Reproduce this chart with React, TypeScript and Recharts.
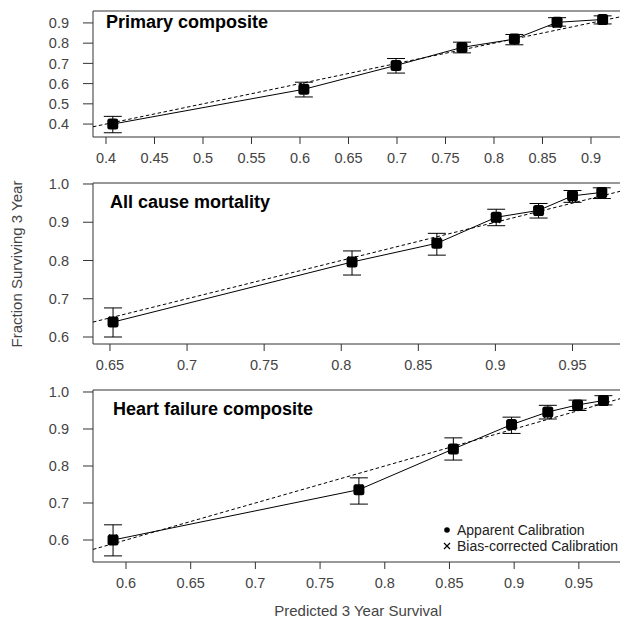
import React from "react"
import { ComposedChart, Scatter, XAxis, YAxis, ErrorBar, ReferenceLine } from "recharts"

const FONT = "'Liberation Sans', Arial, Helvetica, sans-serif"

// Primary composite
const primaryPred = [0.407, 0.604, 0.699, 0.767, 0.821, 0.865, 0.912]
const primaryObs = [0.4, 0.572, 0.69, 0.779, 0.82, 0.903, 0.917]
const primaryLow = [0.357, 0.534, 0.652, 0.752, 0.792, 0.884, 0.895]
const primaryHigh = [0.438, 0.607, 0.724, 0.805, 0.843, 0.926, 0.935]
const primaryBias = [0.402, 0.578, 0.694, 0.777, 0.818, 0.896, 0.912]
const primaryXTicks = [0.4, 0.45, 0.5, 0.55, 0.6, 0.65, 0.7, 0.75, 0.8, 0.85, 0.9]
const primaryXLabels = ["0.4", "0.45", "0.5", "0.55", "0.6", "0.65", "0.7", "0.75", "0.8", "0.85", "0.9"]
const primaryYTicks = [0.4, 0.5, 0.6, 0.7, 0.8, 0.9]
const primaryYLabels = ["0.4", "0.5", "0.6", "0.7", "0.8", "0.9"]
const primaryXRange = [0.3866, 0.9299]
const primaryYRange = [0.336, 0.959]

// All cause mortality
const mortalityPred = [0.652, 0.807, 0.862, 0.9005, 0.928, 0.95, 0.969]
const mortalityObs = [0.639, 0.796, 0.845, 0.913, 0.931, 0.969, 0.978]
const mortalityLow = [0.6, 0.762, 0.814, 0.891, 0.911, 0.952, 0.962]
const mortalityHigh = [0.676, 0.825, 0.871, 0.934, 0.949, 0.983, 0.99]
const mortalityBias = [0.643, 0.8, 0.85, 0.908, 0.927, 0.962, 0.974]
const mortalityXTicks = [0.65, 0.7, 0.75, 0.8, 0.85, 0.9, 0.95]
const mortalityXLabels = ["0.65", "0.7", "0.75", "0.8", "0.85", "0.9", "0.95"]
const mortalityYTicks = [0.6, 0.7, 0.8, 0.9, 1.0]
const mortalityYLabels = ["0.6", "0.7", "0.8", "0.9", "1.0"]
const mortalityXRange = [0.639, 0.9808]
const mortalityYRange = [0.5817, 1.0026]

// Heart failure composite
const hfPred = [0.59, 0.78, 0.853, 0.898, 0.926, 0.949, 0.969]
const hfObs = [0.6, 0.736, 0.846, 0.912, 0.946, 0.965, 0.977]
const hfLow = [0.557, 0.697, 0.816, 0.888, 0.927, 0.95, 0.965]
const hfHigh = [0.641, 0.768, 0.876, 0.932, 0.964, 0.978, 0.99]
const hfBias = [0.604, 0.739, 0.846, 0.907, 0.94, 0.96, 0.974]
const hfXTicks = [0.6, 0.65, 0.7, 0.75, 0.8, 0.85, 0.9, 0.95]
const hfXLabels = ["0.6", "0.65", "0.7", "0.75", "0.8", "0.85", "0.9", "0.95"]
const hfYTicks = [0.6, 0.7, 0.8, 0.9, 1.0]
const hfYLabels = ["0.6", "0.7", "0.8", "0.9", "1.0"]
const hfXRange = [0.5745, 0.9818]
const hfYRange = [0.5405, 1.0054]

const legendLabels = ["Apparent Calibration", "Bias-corrected Calibration"]

function Square(props: any) {
  const { cx, cy } = props
  return <rect x={cx - 5.5} y={cy - 5.5} width={11} height={11} rx={2.5} fill="#000" />
}

function Cross(props: any) {
  const { cx, cy } = props
  const s = 4
  return (
    <path
      d={`M${cx - s},${cy - s}L${cx + s},${cy + s}M${cx - s},${cy + s}L${cx + s},${cy - s}`}
      stroke="#000"
      strokeWidth={1.2}
    />
  )
}

function Empty() {
  return <g />
}

interface PanelProps {
  title: string
  titleLeft: number
  titleTop: number
  top: number
  plotHeight: number
  pred: number[]
  obs: number[]
  low: number[]
  high: number[]
  bias: number[]
  xTicks: number[]
  xLabels: string[]
  yTicks: number[]
  yLabels: string[]
  xRange: number[]
  yRange: number[]
}

function Panel(p: PanelProps) {
  const apparent = p.pred.map((x, i) => ({
    x,
    y: p.obs[i],
    err: [p.obs[i] - p.low[i], p.high[i] - p.obs[i]],
  }))
  const corrected = p.pred.map((x, i) => ({ x, y: p.bias[i] }))
  const ideal = p.xRange.map((v) => ({ x: v, y: v }))
  const tickStyle = { fill: "#444", fontSize: 14.5, fontFamily: FONT }

  return (
    <>
      <div style={{ position: "absolute", left: 0, top: p.top - 10 }}>
        <ComposedChart
          width={620}
          height={10 + p.plotHeight + 38}
          margin={{ top: 10, right: 0, bottom: 0, left: 0 }}
        >
          <XAxis
            type="number"
            dataKey="x"
            domain={p.xRange}
            ticks={p.xTicks}
            interval={0}
            allowDataOverflow
            tickFormatter={(v: number) => p.xLabels[p.xTicks.indexOf(v)]}
            tick={tickStyle}
            tickSize={7}
            tickMargin={9}
            height={38}
            axisLine={{ stroke: "#333" }}
            tickLine={{ stroke: "#333" }}
          />
          <YAxis
            type="number"
            dataKey="y"
            domain={p.yRange}
            ticks={p.yTicks}
            interval={0}
            allowDataOverflow
            tickFormatter={(v: number) => p.yLabels[p.yTicks.indexOf(v)]}
            tick={tickStyle}
            tickSize={10}
            tickMargin={14}
            width={93}
            axisLine={{ stroke: "#333" }}
            tickLine={{ stroke: "#333" }}
          />
          <ReferenceLine y={p.yRange[1]} stroke="#333" />
          <Scatter
            data={ideal}
            line={{ stroke: "#000", strokeWidth: 1, strokeDasharray: "3.5 2.5" }}
            shape={Empty}
            isAnimationActive={false}
          />
          <Scatter data={corrected} shape={Cross} isAnimationActive={false} />
          <Scatter
            data={apparent}
            line={{ stroke: "#000", strokeWidth: 1 }}
            lineType="joint"
            shape={Square}
            isAnimationActive={false}
          >
            <ErrorBar dataKey="err" direction="y" width={9} stroke="#000" strokeWidth={1} />
          </Scatter>
        </ComposedChart>
      </div>
      <div
        style={{
          position: "absolute",
          left: p.titleLeft,
          top: p.titleTop,
          fontFamily: FONT,
          fontWeight: "bold",
          fontSize: 18,
          lineHeight: "20px",
          color: "#000",
          whiteSpace: "nowrap",
        }}
      >
        {p.title}
      </div>
    </>
  )
}

export default function App() {
  return (
    <div
      style={{
        position: "absolute",
        left: 0,
        top: 0,
        width: 620,
        height: 619,
        overflow: "hidden",
        background: "#fff",
        fontFamily: FONT,
      }}
    >
      <Panel
        title="Primary composite"
        titleLeft={106}
        titleTop={12}
        top={11}
        plotHeight={126}
        pred={primaryPred}
        obs={primaryObs}
        low={primaryLow}
        high={primaryHigh}
        bias={primaryBias}
        xTicks={primaryXTicks}
        xLabels={primaryXLabels}
        yTicks={primaryYTicks}
        yLabels={primaryYLabels}
        xRange={primaryXRange}
        yRange={primaryYRange}
      />
      <Panel
        title="All cause mortality"
        titleLeft={110}
        titleTop={192}
        top={183}
        plotHeight={161}
        pred={mortalityPred}
        obs={mortalityObs}
        low={mortalityLow}
        high={mortalityHigh}
        bias={mortalityBias}
        xTicks={mortalityXTicks}
        xLabels={mortalityXLabels}
        yTicks={mortalityYTicks}
        yLabels={mortalityYLabels}
        xRange={mortalityXRange}
        yRange={mortalityYRange}
      />
      <Panel
        title="Heart failure composite"
        titleLeft={113}
        titleTop={399}
        top={390}
        plotHeight={172}
        pred={hfPred}
        obs={hfObs}
        low={hfLow}
        high={hfHigh}
        bias={hfBias}
        xTicks={hfXTicks}
        xLabels={hfXLabels}
        yTicks={hfYTicks}
        yLabels={hfYLabels}
        xRange={hfXRange}
        yRange={hfYRange}
      />

      <div
        style={{
          position: "absolute",
          left: 16,
          top: 264,
          transform: "translate(-50%, -50%) rotate(-90deg)",
          fontSize: 15,
          color: "#444",
          whiteSpace: "nowrap",
        }}
      >
        Fraction Surviving 3 Year
      </div>
      <div
        style={{
          position: "absolute",
          left: 358,
          top: 610,
          transform: "translate(-50%, -50%)",
          fontSize: 15,
          color: "#444",
          whiteSpace: "nowrap",
        }}
      >
        Predicted 3 Year Survival
      </div>

      <div style={{ position: "absolute", left: 440, top: 522, fontSize: 14, color: "#222", lineHeight: "16px" }}>
        <div style={{ display: "flex", alignItems: "center" }}>
          <svg width={17} height={16}>
            <circle cx={7} cy={8} r={2.8} fill="#000" />
          </svg>
          <span>{legendLabels[0]}</span>
        </div>
        <div style={{ display: "flex", alignItems: "center" }}>
          <svg width={17} height={16}>
            <path d="M4,5L10,11M4,11L10,5" stroke="#000" strokeWidth={1.2} />
          </svg>
          <span>{legendLabels[1]}</span>
        </div>
      </div>
    </div>
  )
}
